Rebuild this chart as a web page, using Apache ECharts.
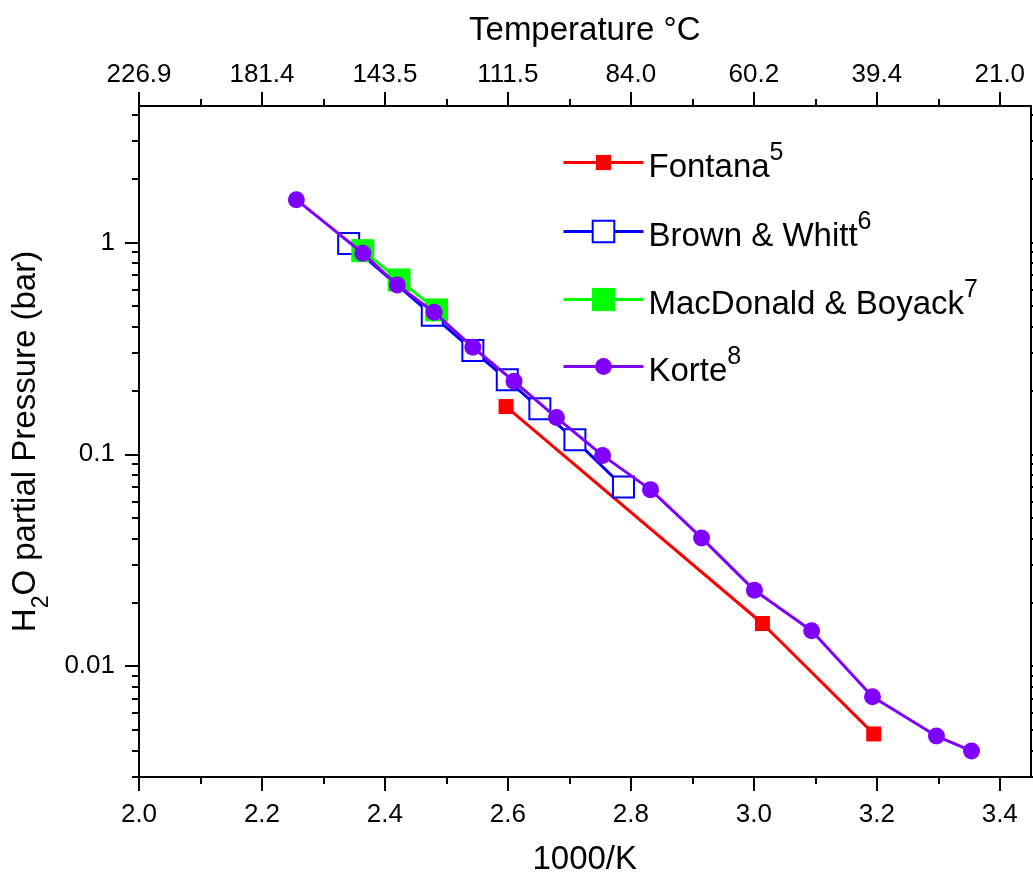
<!DOCTYPE html>
<html><head><meta charset="utf-8">
<script src="https://cdn.jsdelivr.net/npm/echarts@6/dist/echarts.min.js"></script>
<style>html,body{margin:0;padding:0;background:#fff}#c{width:1033px;height:875px}</style>
</head><body><div id="c"></div>
<script>
// ---------- data ----------
const seriesNames = ['Fontana', 'Brown & Whitt', 'MacDonald & Boyack', 'Korte'];
const seriesRefs = ['5', '6', '7', '8'];

const fontanaX = [2.597, 3.014, 3.195];
const fontanaY = [0.168, 0.0159, 0.00479];

const brownX = [2.341, 2.477, 2.543, 2.599, 2.652, 2.709, 2.788];
const brownY = [0.989, 0.453, 0.309, 0.225, 0.164, 0.117, 0.0701];

const macX = [2.364, 2.423, 2.484];
const macY = [0.914, 0.665, 0.480];

const korteX = [2.256, 2.364, 2.420, 2.480, 2.543, 2.610, 2.679, 2.754, 2.832, 2.915, 3.001, 3.094, 3.193, 3.297, 3.354];
const korteY = [1.59, 0.888, 0.630, 0.468, 0.320, 0.221, 0.149, 0.0988, 0.0681, 0.0403, 0.0228, 0.0147, 0.00718, 0.00468, 0.00398];

const xMajorTicks = [2.0, 2.2, 2.4, 2.6, 2.8, 3.0, 3.2, 3.4];
const xMinorTicks = [2.1, 2.3, 2.5, 2.7, 2.9, 3.1, 3.3];
const tempLabels = ['226.9', '181.4', '143.5', '111.5', '84.0', '60.2', '39.4', '21.0'];
const yMajorTicks = [0.01, 0.1, 1];
const yMinorTicks = [0.003, 0.004, 0.005, 0.006, 0.007, 0.008, 0.009,
  0.02, 0.03, 0.04, 0.05, 0.06, 0.07, 0.08, 0.09,
  0.2, 0.3, 0.4, 0.5, 0.6, 0.7, 0.8, 0.9, 2, 3, 4];
const xMin = 2.0, xMax = 3.45, yMin = 0.003, yMax = 4.4;

// ---------- style ----------
const FONT = 'Liberation Sans, Arial, sans-serif';
const BLACK = '#000';
const colors = ['#ff0000', '#0000ff', '#00ff00', '#8000ff'];
const symbols = ['rect', 'emptyRect', 'rect', 'circle'];
const symbolSizes = [15, 21, 23, 17];
const legendTops = [141, 210, 278, 345];
const legendIconH = [19, 27, 29, 21];

const line = { show: true, lineStyle: { color: BLACK, width: 2 } };
function tick(values, len) {
  return { show: true, customValues: values, length: len, inside: false, lineStyle: { color: BLACK, width: 2 } };
}
const labelBase = { color: BLACK, fontFamily: FONT, fontSize: 26 };

function pairs(xs, ys) { return xs.map((x, i) => [x, ys[i]]); }
const dataSets = [pairs(fontanaX, fontanaY), pairs(brownX, brownY), pairs(macX, macY), pairs(korteX, korteY)];

const tempLookup = {};
xMajorTicks.forEach((v, i) => { tempLookup[v.toFixed(1)] = tempLabels[i]; });

const xAxes = [
  { type: 'value', position: 'bottom', min: xMin, max: xMax, axisLine: line, axisTick: tick(xMajorTicks, 14),
    axisLabel: Object.assign({ customValues: xMajorTicks, margin: 25, formatter: v => v.toFixed(1) }, labelBase),
    splitLine: { show: false }, minorTick: { show: false },
    name: '1000/K', nameLocation: 'middle', nameGap: 66,
    nameTextStyle: { fontSize: 33, color: BLACK, fontFamily: FONT } },
  { type: 'value', position: 'bottom', min: xMin, max: xMax, axisLine: line, axisTick: tick(xMinorTicks, 7),
    axisLabel: { show: false }, splitLine: { show: false } },
  { type: 'value', position: 'top', min: xMin, max: xMax, axisLine: line, axisTick: tick(xMajorTicks, 14),
    axisLabel: Object.assign({ customValues: xMajorTicks, margin: 18, formatter: v => tempLookup[v.toFixed(1)] }, labelBase),
    splitLine: { show: false },
    name: 'Temperature °C', nameLocation: 'middle', nameGap: 59,
    nameTextStyle: { fontSize: 33, color: BLACK, fontFamily: FONT } },
  { type: 'value', position: 'top', min: xMin, max: xMax, axisLine: line, axisTick: tick(xMinorTicks, 7),
    axisLabel: { show: false }, splitLine: { show: false } }
];

const yAxes = [
  { type: 'log', position: 'left', min: yMin, max: yMax, axisLine: line, axisTick: tick(yMajorTicks, 14),
    axisLabel: Object.assign({ customValues: yMajorTicks, margin: 24, formatter: v => String(v) }, labelBase),
    splitLine: { show: false }, minorTick: { show: false },
    name: '{a|H}{b|2}{a|O partial Pressure (bar)}', nameLocation: 'middle', nameGap: 86,
    nameTextStyle: { color: BLACK, fontFamily: FONT,
      rich: { a: { fontSize: 33, lineHeight: 44, verticalAlign: 'top', color: BLACK, fontFamily: FONT },
              b: { fontSize: 23, lineHeight: 23, verticalAlign: 'bottom', color: BLACK, fontFamily: FONT } } } },
  { type: 'log', position: 'left', min: yMin, max: yMax, axisLine: line, axisTick: tick(yMinorTicks, 7),
    axisLabel: { show: false }, splitLine: { show: false } },
  { type: 'log', position: 'right', min: yMin, max: yMax, axisLine: line, axisTick: tick(yMajorTicks, 14),
    axisLabel: { show: false }, splitLine: { show: false } },
  { type: 'log', position: 'right', min: yMin, max: yMax, axisLine: line, axisTick: tick(yMinorTicks, 7),
    axisLabel: { show: false }, splitLine: { show: false } }
];

const series = seriesNames.map((name, i) => ({
  name: name, type: 'line', xAxisIndex: 0, yAxisIndex: 0,
  data: dataSets[i], symbol: symbols[i], symbolSize: symbolSizes[i],
  showSymbol: true, animation: false, z: 2 + i,
  lineStyle: { color: colors[i], width: 3 },
  itemStyle: symbols[i] === 'emptyRect'
    ? { color: colors[i], borderColor: colors[i], borderWidth: 2 }
    : { color: colors[i], borderWidth: 0 },
  emphasis: { disabled: true }
}));

const legends = seriesNames.map((name, i) => ({
  data: [name], left: 562, top: legendTops[i], orient: 'vertical', padding: 0,
  itemWidth: 80, itemHeight: legendIconH[i], selectedMode: false,
  lineStyle: { width: 3 },
  formatter: n => '{a|' + n + '}{s|' + seriesRefs[i] + '}',
  textStyle: { color: BLACK, fontFamily: FONT,
    rich: { a: { fontSize: 33, lineHeight: 43, verticalAlign: 'bottom', color: BLACK, fontFamily: FONT },
            s: { fontSize: 25, lineHeight: 22, verticalAlign: 'top', color: BLACK, fontFamily: FONT } } }
}));

const chart = echarts.init(document.getElementById('c'), null, { renderer: 'canvas' });
chart.setOption({
  backgroundColor: '#fff',
  animation: false,
  grid: { left: 139, right: 2.5, top: 106, bottom: 98, containLabel: false, outerBoundsMode: 'none' },
  xAxis: xAxes,
  yAxis: yAxes,
  legend: legends,
  series: series
});
</script></body></html>
